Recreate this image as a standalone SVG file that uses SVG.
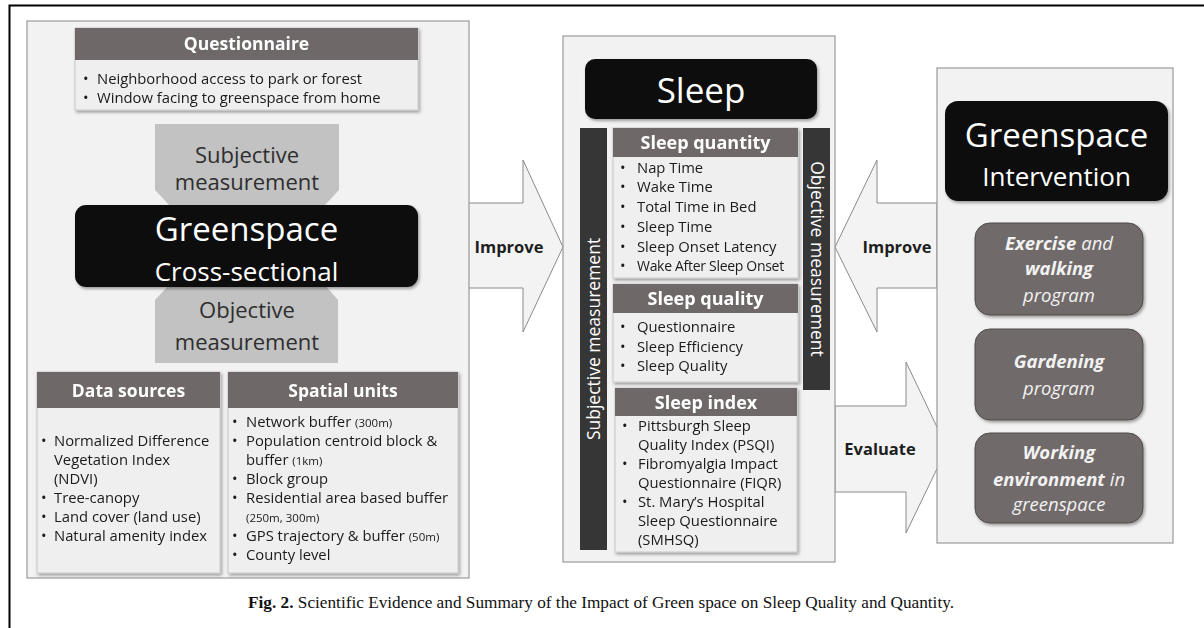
<svg xmlns="http://www.w3.org/2000/svg" width="1204" height="628" viewBox="0 0 1204 628">
<style>
.sans{font-family:"Open Sans","Noto Sans","DejaVu Sans",sans-serif}
.panel{fill:#f2f2f2;stroke:#9a9a9a;stroke-width:1.2}
.hdr{fill:#6e6968}
.body{fill:#efefef;stroke:#c8c8c8;stroke-width:1}
.hdrtxt{font-family:"Open Sans","Noto Sans",sans-serif;font-weight:bold;fill:#ffffff;text-anchor:middle}
.item{font-family:"Open Sans","Noto Sans",sans-serif;font-size:14.8px;fill:#1a1a1a}
.small{font-size:11.5px}
.blk{fill:#0b0b0b}
.meas{fill:#c2c2c2}
.meastxt{font-family:"Open Sans","Noto Sans",sans-serif;font-size:22px;fill:#2e2e2e;text-anchor:middle}
.bar{fill:#363636}
.bartxt{font-family:"Open Sans","Noto Sans",sans-serif;font-size:17.5px;fill:#ffffff;text-anchor:middle}
.arrow{fill:#f3f3f3;stroke:#8a8a8a;stroke-width:1}
.arrtxt{font-family:"Open Sans","Noto Sans",sans-serif;font-weight:bold;font-size:16.5px;fill:#1e1e1e;text-anchor:middle}
.prog{fill:#716b6a;stroke:#4e4a49;stroke-width:1}
.progtxt{font-family:"Open Sans","Noto Sans",sans-serif;font-size:18.5px;font-style:italic;fill:#f2f2f2;text-anchor:middle}
</style>
<defs>
<filter id="sh" x="-10%" y="-10%" width="125%" height="125%">
<feDropShadow dx="1.5" dy="2" stdDeviation="1.5" flood-color="#000" flood-opacity="0.35"/>
</filter>
</defs>
<rect width="1204" height="628" fill="#ffffff"/>
<path d="M9.5,628 V5.5 H1204" fill="none" stroke="#000" stroke-width="2"/>

<!-- connectors -->
<g id="connectors">
<path class="arrow" d="M468,203 H523 V160 L563,247 L523,332 V288 H468 Z"/>
<text class="arrtxt" x="509" y="253">Improve</text>
<path class="arrow" d="M937,203 H877 V160 L835,247 L877,332 V288 H937 Z"/>
<text class="arrtxt" x="897" y="253">Improve</text>
<path class="arrow" d="M835,406 H906 V362 L947,448 L906,533 V492 H835 Z"/>
<text class="arrtxt" x="880" y="455">Evaluate</text>
</g>

<!-- left panel -->
<g id="left-panel">
<rect class="panel" x="27" y="21" width="442" height="557"/>
</g>
<g id="questionnaire" filter="url(#sh)">
<rect class="body" x="75" y="28" width="343" height="82"/>
<rect class="hdr" x="75" y="28" width="343" height="32"/>
<text class="hdrtxt" x="246.5" y="50" font-size="17.5">Questionnaire</text>
<text class="item" font-size="14"><tspan x="83" y="84">•</tspan><tspan x="97" y="84">Neighborhood access to park or forest</tspan></text>
<text class="item" font-size="14"><tspan x="83" y="103">•</tspan><tspan x="97" y="103">Window facing to greenspace from home</tspan></text>
</g>
<g id="subjective-measurement">
<polygon class="meas" points="155,124 339,124 339,190 324,206 170,206 155,190"/>
<text class="meastxt" x="247" y="163">Subjective</text>
<text class="meastxt" x="247" y="190">measurement</text>
</g>
<g id="objective-measurement">
<polygon class="meas" points="170,284 324,284 338,300 338,363 155,363 155,300"/>
<text class="meastxt" x="247" y="318">Objective</text>
<text class="meastxt" x="247" y="350">measurement</text>
</g>
<g id="greenspace-cross-sectional">
<rect class="blk" x="75" y="205" width="343" height="82" rx="11" filter="url(#sh)"/>
<text class="sans" x="246.5" y="241" font-size="33" fill="#fff" text-anchor="middle">Greenspace</text>
<text class="sans" x="246.5" y="281" font-size="26" fill="#fff" text-anchor="middle">Cross-sectional</text>
</g>
<g id="data-sources" filter="url(#sh)">
<rect class="body" x="37" y="372" width="183" height="201"/>
<rect class="hdr" x="37" y="372" width="183" height="36"/>
<text class="hdrtxt" x="128.5" y="397" font-size="17.5">Data sources</text>
<text class="item"><tspan x="41" y="446">•</tspan><tspan x="54">Normalized Difference</tspan></text>
<text class="item" x="54" y="465">Vegetation Index</text>
<text class="item" x="54" y="484">(NDVI)</text>
<text class="item"><tspan x="41" y="503">•</tspan><tspan x="54">Tree-canopy</tspan></text>
<text class="item"><tspan x="41" y="522">•</tspan><tspan x="54">Land cover (land use)</tspan></text>
<text class="item"><tspan x="41" y="541">•</tspan><tspan x="54">Natural amenity index</tspan></text>
</g>
<g id="spatial-units" filter="url(#sh)">
<rect class="body" x="228" y="372" width="230" height="201"/>
<rect class="hdr" x="228" y="372" width="230" height="36"/>
<text class="hdrtxt" x="343" y="397" font-size="17.5">Spatial units</text>
<text class="item"><tspan x="232" y="427">•</tspan><tspan x="246">Network buffer <tspan class="small">(300m)</tspan></tspan></text>
<text class="item"><tspan x="232" y="446">•</tspan><tspan x="246">Population centroid block &amp;</tspan></text>
<text class="item" x="246" y="465">buffer <tspan class="small">(1km)</tspan></text>
<text class="item"><tspan x="232" y="484">•</tspan><tspan x="246">Block group</tspan></text>
<text class="item"><tspan x="232" y="503">•</tspan><tspan x="246">Residential area based buffer</tspan></text>
<text class="item small" x="246" y="522">(250m, 300m)</text>
<text class="item"><tspan x="232" y="541">•</tspan><tspan x="246">GPS trajectory &amp; buffer <tspan class="small">(50m)</tspan></tspan></text>
<text class="item"><tspan x="232" y="560">•</tspan><tspan x="246">County level</tspan></text>
</g>

<!-- middle panel -->
<g id="middle-panel">
<rect class="panel" x="563" y="36" width="272" height="526" stroke="#c4c4c4"/>
</g>
<g id="sleep">
<rect class="blk" x="585" y="59" width="232" height="60" rx="10" filter="url(#sh)"/>
<text class="sans" x="701" y="103" font-size="35" fill="#fff" text-anchor="middle">Sleep</text>
</g>
<g id="subjective-bar">
<rect class="bar" x="580" y="128" width="27" height="422"/>
<text class="bartxt" transform="translate(599.5,339) rotate(-90)">Subjective measurement</text>
</g>
<g id="objective-bar">
<rect class="bar" x="803" y="128" width="27" height="262"/>
<text class="bartxt" transform="translate(810.5,259) rotate(90)">Objective measurement</text>
</g>
<g id="sleep-quantity" filter="url(#sh)">
<rect class="body" x="613" y="128" width="185" height="150"/>
<rect class="hdr" x="613" y="128" width="185" height="29"/>
<text class="hdrtxt" x="705.5" y="149" font-size="18">Sleep quantity</text>
<text class="item"><tspan x="620" y="173">•</tspan><tspan x="637">Nap Time</tspan></text>
<text class="item"><tspan x="620" y="192">•</tspan><tspan x="637">Wake Time</tspan></text>
<text class="item"><tspan x="620" y="212">•</tspan><tspan x="637">Total Time in Bed</tspan></text>
<text class="item"><tspan x="620" y="232">•</tspan><tspan x="637">Sleep Time</tspan></text>
<text class="item"><tspan x="620" y="252">•</tspan><tspan x="637">Sleep Onset Latency</tspan></text>
<text class="item"><tspan x="620" y="271">•</tspan><tspan x="637" font-size="14" letter-spacing="-0.3">Wake After Sleep Onset</tspan></text>
</g>
<g id="sleep-quality" filter="url(#sh)">
<rect class="body" x="613" y="284" width="185" height="98"/>
<rect class="hdr" x="613" y="284" width="185" height="29"/>
<text class="hdrtxt" x="705.5" y="305" font-size="18">Sleep quality</text>
<text class="item"><tspan x="620" y="332">•</tspan><tspan x="637">Questionnaire</tspan></text>
<text class="item"><tspan x="620" y="352">•</tspan><tspan x="637">Sleep Efficiency</tspan></text>
<text class="item"><tspan x="620" y="371">•</tspan><tspan x="637">Sleep Quality</tspan></text>
</g>
<g id="sleep-index" filter="url(#sh)">
<rect class="body" x="615" y="388" width="182" height="164"/>
<rect class="hdr" x="615" y="388" width="182" height="28"/>
<text class="hdrtxt" x="706" y="409" font-size="18">Sleep index</text>
<text class="item"><tspan x="622" y="431">•</tspan><tspan x="638">Pittsburgh Sleep</tspan></text>
<text class="item" x="638" y="450">Quality Index (PSQI)</text>
<text class="item"><tspan x="622" y="469">•</tspan><tspan x="638">Fibromyalgia Impact</tspan></text>
<text class="item" x="638" y="488">Questionnaire (FIQR)</text>
<text class="item"><tspan x="622" y="507">•</tspan><tspan x="638">St. Mary’s Hospital</tspan></text>
<text class="item" x="638" y="526">Sleep Questionnaire</text>
<text class="item" x="638" y="545">(SMHSQ)</text>
</g>

<!-- right panel -->
<g id="right-panel">
<rect class="panel" x="937" y="68" width="236" height="475"/>
</g>
<g id="greenspace-intervention">
<rect class="blk" x="945" y="101" width="223" height="100" rx="13" filter="url(#sh)"/>
<text class="sans" x="1056.5" y="147" font-size="33" fill="#fff" text-anchor="middle">Greenspace</text>
<text class="sans" x="1056.5" y="186" font-size="26" fill="#fff" text-anchor="middle">Intervention</text>
</g>
<g id="exercise-program">
<rect class="prog" x="975" y="223" width="168" height="92" rx="15" filter="url(#sh)"/>
<text class="progtxt" x="1059" y="250"><tspan font-weight="bold">Exercise</tspan> and</text>
<text class="progtxt" x="1059" y="275" font-weight="bold">walking</text>
<text class="progtxt" x="1059" y="302">program</text>
</g>
<g id="gardening-program">
<rect class="prog" x="975" y="329" width="168" height="91" rx="15" filter="url(#sh)"/>
<text class="progtxt" x="1059" y="368" font-weight="bold">Gardening</text>
<text class="progtxt" x="1059" y="395">program</text>
</g>
<g id="working-environment">
<rect class="prog" x="975" y="433" width="168" height="90" rx="15" filter="url(#sh)"/>
<text class="progtxt" x="1059" y="459" font-weight="bold">Working</text>
<text class="progtxt" x="1059" y="486"><tspan font-weight="bold">environment</tspan> in</text>
<text class="progtxt" x="1059" y="511">greenspace</text>
</g>

<!-- caption -->
<text x="601" y="608" font-family="Liberation Serif,serif" font-size="16" fill="#111" text-anchor="middle" textLength="706" lengthAdjust="spacingAndGlyphs"><tspan font-weight="bold">Fig. 2.</tspan> Scientific Evidence and Summary of the Impact of Green space on Sleep Quality and Quantity.</text>
</svg>
